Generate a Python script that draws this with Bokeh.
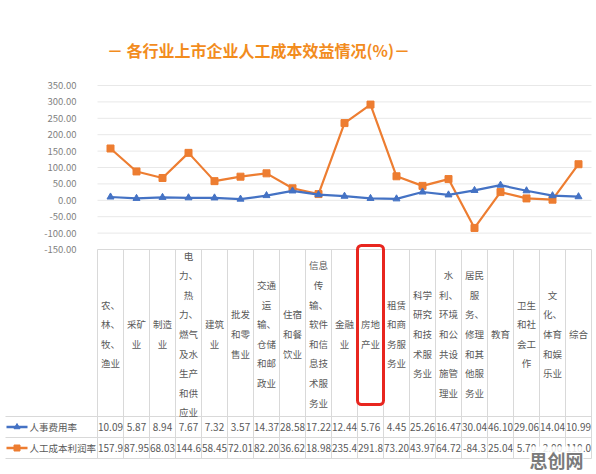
from bokeh.plotting import figure
from bokeh.models import Range1d, ColumnDataSource
from bokeh.core.properties import value
from bokeh.embed import file_html
from bokeh.resources import INLINE

# ---------------- data ----------------
categories = [
    "农、\n林、\n牧、\n渔业", "采矿\n业", "制造\n业",
    "电\n力、\n热\n力、\n燃气\n及水\n生产\n和供\n应业",
    "建筑\n业", "批发\n和零\n售业", "交通\n运\n输、\n仓储\n和邮\n政业",
    "住宿\n和餐\n饮业", "信息\n传\n输、\n软件\n和信\n息技\n术服\n务业",
    "金融\n业", "房地\n产业", "租赁\n和商\n务服\n务业",
    "科学\n研究\n和技\n术服\n务业", "水\n利、\n环境\n和公\n共设\n施管\n理业",
    "居民\n服\n务、\n修理\n和其\n他服\n务业", "教育", "卫生\n和社\n会工\n作",
    "文\n化、\n体育\n和娱\n乐业", "综合",
]
series_names = ["人事费用率", "人工成本利润率"]
personnel_rate = [10.09, 5.87, 8.94, 7.67, 7.32, 3.57, 14.37, 28.58, 17.22, 12.44,
                  5.76, 4.45, 25.26, 16.47, 30.04, 46.10, 29.06, 14.04, 10.99]
profit_rate = [157.93, 87.95, 68.03, 144.60, 58.45, 72.01, 82.20, 36.62, 18.98, 235.40,
               291.80, 73.20, 43.97, 64.72, -84.30, 25.04, 5.70, 2.00, 110.00]
y_ticks = [350, 300, 250, 200, 150, 100, 50, 0, -50, -100, -150]
title_text = "－ 各行业上市企业人工成本效益情况(%)－"
highlight_index = 10
watermark = "思创网"

# ---------------- layout constants (image pixel space) ----------------
W, H = 596, 474
OFF = 0
PLOT_L, PLOT_R = 97, 591
Y_TOP_PX, Y_BOT_PX = 85, 249
V_TOP, V_BOT = 350, -150
n = len(categories)
colw = (PLOT_R - PLOT_L) / n
ppu = (Y_BOT_PX - Y_TOP_PX) / (V_TOP - V_BOT)

x_start = -0.5 - (PLOT_L - OFF) / colw
x_end = n - 0.5 + (OFF + W - PLOT_R) / colw
y_top = V_TOP + (Y_TOP_PX - OFF) / ppu
y_bot = V_BOT - (OFF + H - Y_BOT_PX) / ppu

p = figure(width=W, height=H, output_backend="svg", toolbar_location=None,
           x_range=Range1d(x_start, x_end), y_range=Range1d(y_bot, y_top),
           min_border=0, outline_line_color=None, x_axis_type=None, y_axis_type=None)
p.xgrid.visible = False
p.ygrid.visible = False
p.background_fill_color = "white"
p.border_fill_color = "white"
p.extra_x_ranges = {"px": Range1d(OFF, OFF + W)}
p.extra_y_ranges = {"px": Range1d(OFF + H, OFF)}

FONT = value("Noto Sans CJK SC")
GRAY = "#595959"
LINE = "#d9d9d9"
BLUE = "#4472c4"
ORANGE = "#ed7d31"

idx = list(range(n))

# grid lines
grid_ticks = [t for t in y_ticks if t != V_BOT]
p.segment(x0=[-0.5] * len(grid_ticks), x1=[n - 0.5] * len(grid_ticks),
          y0=grid_ticks, y1=grid_ticks, line_color="#e8e8e8", line_width=1)

# y tick labels
p.text(x=[76] * len(y_ticks), y=y_ticks,
       text=[f"{t:.2f}" for t in y_ticks], x_range_name="px",
       text_align="right", text_baseline="middle", text_font=FONT,
       text_font_size="9.5px", text_color="#7f7f7f")

# table lines
TBL_TOP, ROW1, ROW2, TBL_BOT = 249, 416, 437, 458
p.segment(x0=[-0.5], x1=[n - 0.5], y0=[TBL_TOP], y1=[TBL_TOP], y_range_name="px",
          line_color=LINE, line_width=1)
vx = [i - 0.5 for i in range(n + 1)]
p.segment(x0=vx, x1=vx, y0=[TBL_TOP] * len(vx), y1=[TBL_BOT] * len(vx),
          y_range_name="px", line_color=LINE, line_width=1)
hy = [ROW1, ROW2, TBL_BOT]
p.segment(x0=[5] * 3, x1=[PLOT_R] * 3, y0=hy, y1=hy, x_range_name="px",
          y_range_name="px", line_color=LINE, line_width=1)

# category labels
p.text(x=idx, y=[(TBL_TOP + ROW1) / 2 + 1] * n, text=categories, y_range_name="px",
       text_align="center", text_baseline="middle", text_font=FONT,
       text_font_size="9.5px", text_color=GRAY, text_line_height=1.4)

# value rows
def fmt(v):
    return f"{v:.2f}"[:5]

p.text(x=idx, y=[(ROW1 + ROW2) / 2] * n, text=[fmt(v) for v in personnel_rate],
       y_range_name="px", text_align="center", text_baseline="middle",
       text_font=FONT, text_font_size="10px", text_color=GRAY)
p.text(x=idx, y=[(ROW2 + TBL_BOT) / 2] * n, text=[fmt(v) for v in profit_rate],
       y_range_name="px", text_align="center", text_baseline="middle",
       text_font=FONT, text_font_size="10px", text_color=GRAY)

# legend inside table
for ry, col, mk, name in [((ROW1 + ROW2) / 2, BLUE, "triangle", series_names[0]),
                          ((ROW2 + TBL_BOT) / 2, ORANGE, "square", series_names[1])]:
    p.line(x=[6, 27], y=[ry, ry], x_range_name="px", y_range_name="px",
           line_color=col, line_width=2.5)
    p.scatter(x=[16.5], y=[ry], x_range_name="px", y_range_name="px", marker=mk,
              size=6, fill_color=col, line_color=col)
    p.text(x=[29], y=[ry], text=[name], x_range_name="px", y_range_name="px",
           text_align="left", text_baseline="middle", text_font=FONT,
           text_font_size="9.5px", text_color=GRAY)

# series lines
src = ColumnDataSource(dict(x=idx, a=personnel_rate, b=profit_rate))
p.line("x", "b", source=src, line_color=ORANGE, line_width=2.2)
p.scatter("x", "b", source=src, marker="square", size=7, fill_color=ORANGE,
          line_color=ORANGE)
p.line("x", "a", source=src, line_color=BLUE, line_width=2.2)
p.scatter("x", "a", source=src, marker="triangle", size=7, fill_color=BLUE,
          line_color=BLUE)

# highlight box
p.quad(left=[highlight_index - 0.5], right=[highlight_index + 0.5],
       top=[245], bottom=[404], y_range_name="px", border_radius=4,
       fill_color=None, line_color="#e8261f", line_width=3)

# title
p.text(x=[258], y=[49], text=[title_text], x_range_name="px", y_range_name="px",
       text_align="center", text_baseline="middle", text_font=FONT,
       text_font_size="16px", text_font_style="bold", text_color="#f28c1e")

# watermark
p.text(x=[556], y=[459], text=[watermark], x_range_name="px", y_range_name="px",
       text_align="center", text_baseline="middle", text_font=FONT,
       text_font_size="18px", text_font_style="bold", text_color="#7a7a7a",
       background_fill_color="white", background_fill_alpha=0.85)

open("out.html", "w").write(file_html(p, INLINE))
